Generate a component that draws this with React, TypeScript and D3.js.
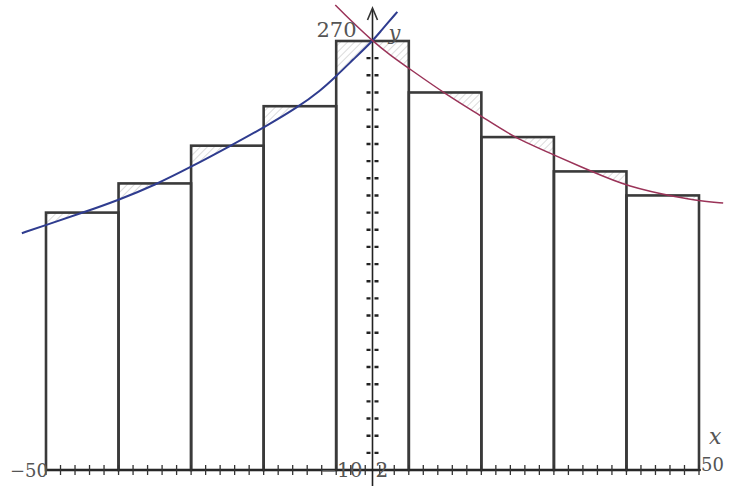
import React from 'react';
import * as d3 from 'd3';

// histogram bins (equal width over -50..50)
const binEdges = [-50, -38.89, -27.78, -16.67, -5.56, 5.56, 16.67, 27.78, 38.89, 50];
const barValues = [170, 187, 209, 232, 270, 240, 214, 194, 180];

// left curve (blue)
const blueX = [-53.7, -50, -44.5, -38.9, -33.3, -27.8, -21.8, -16.5, -11.4, -8.0, -5.7, -3.0, 0, 1.1, 3.8];
const blueY = [158, 162.8, 169.8, 177.3, 186.1, 196.6, 208.8, 219.9, 231.5, 241, 249, 259, 270, 275, 287];

// right curve (red)
const redX = [-5.7, -3.4, 0, 2.7, 5.7, 11.4, 16.9, 21.5, 27.8, 33.3, 39.1, 47.1, 50.2, 53.7];
const redY = [291, 282.2, 270, 261.8, 253.7, 238.5, 225.7, 214.1, 203.6, 194.4, 185, 178.6, 176.8, 175.6];

const yTopLabel = '270';
const xEndLabels = ['\u221250', '50'];
const xOriginLabels = ['\u221210', '2'];
const xAxisName = 'x';
const yAxisName = 'y';

const W = 731;
const H = 486;

export default function App() {
  const x = d3.scaleLinear().domain([-50, 50]).range([46, 699]);
  const y = d3.scaleLinear().domain([20, 270]).range([470, 41]);
  const x0 = x(0);
  const y0 = y(20);

  const blue = blueX.map((v, i) => [v, blueY[i]] as [number, number]);
  const red = redX.map((v, i) => [v, redY[i]] as [number, number]);

  const line = d3.line<[number, number]>()
    .x(d => x(d[0]))
    .y(d => y(d[1]))
    .curve(d3.curveBasis);

  // region between the top of the plot and a curve, later clipped to the bars
  const above = d3.area<[number, number]>()
    .x(d => x(d[0]))
    .y0(0)
    .y1(d => y(d[1]))
    .curve(d3.curveBasis);

  const bars = barValues.map((v, i) => ({ x0: binEdges[i], x1: binEdges[i + 1], v }));

  const yTicks = d3.range(30, 270, 10);
  const xTicks = d3.range(0, 46).map(i => -50 + (i * 100) / 45);

  const ink = '#3a3a3a';
  const labelFont = '"DejaVu Serif", serif';

  return (
    <svg width={W} height={H} style={{ position: 'absolute', left: 0, top: 0, background: '#fff' }}>
      <defs>
        <pattern id="hatch" patternUnits="userSpaceOnUse" width={5} height={5} patternTransform="rotate(45)">
          <line x1={0} y1={0} x2={0} y2={5} stroke="#b8b8b8" strokeWidth={1} />
        </pattern>
        <clipPath id="barsClip">
          {bars.map((b, i) => (
            <rect key={i} x={x(b.x0)} y={y(b.v)} width={x(b.x1) - x(b.x0)} height={y0 - y(b.v)} />
          ))}
        </clipPath>
      </defs>

      {/* bar fills */}
      {bars.map((b, i) => (
        <rect key={'f' + i} x={x(b.x0)} y={y(b.v)} width={x(b.x1) - x(b.x0)} height={y0 - y(b.v)} fill="#fff" />
      ))}

      {/* hatched parts of bars above the curves */}
      <g clipPath="url(#barsClip)">
        <path d={above(blue) || ''} fill="url(#hatch)" />
        <path d={above(red) || ''} fill="url(#hatch)" />
      </g>

      {/* bar outlines */}
      {bars.map((b, i) => (
        <rect key={'o' + i} x={x(b.x0)} y={y(b.v)} width={x(b.x1) - x(b.x0)} height={y0 - y(b.v)}
          fill="none" stroke={ink} strokeWidth={2.6} />
      ))}

      {/* x axis */}
      <line x1={x(-50)} x2={x(50) + 2} y1={y0} y2={y0} stroke="#222" strokeWidth={1.6} />
      {xTicks.map((t, i) => (
        <line key={'xt' + i} x1={x(t)} x2={x(t)} y1={y0 - 5} y2={y0 + 5} stroke="#333" strokeWidth={1.3} />
      ))}

      {/* y axis */}
      <line x1={x0} x2={x0} y1={10} y2={H} stroke="#222" strokeWidth={1.6} />
      {yTicks.map((t, i) => (
        <line key={'yt' + i} x1={x0 - 6} x2={x0 + 6} y1={y(t)} y2={y(t)} stroke="#222" strokeWidth={2.4} strokeDasharray="4 4 4" />
      ))}
      <path d={`M${x0 - 5},${20} L${x0},${8} L${x0 + 5},${20}`} fill="none" stroke="#333" strokeWidth={1.6} />

      {/* curves */}
      <path d={line(blue) || ''} fill="none" stroke="#2f3c8f" strokeWidth={2} />
      <path d={line(red) || ''} fill="none" stroke="#9a3358" strokeWidth={1.5} />

      {/* labels */}
      <text x={x0 - 16} y={37} textAnchor="end" fontFamily={labelFont} fontSize={21} fill="#555">{yTopLabel}</text>
      <text x={x0 + 16} y={40} fontFamily={labelFont} fontStyle="italic" fontSize={21} fill="#555">{yAxisName}</text>
      <text x={x(50) + 10} y={y0 - 26} fontFamily={labelFont} fontStyle="italic" fontSize={22} fill="#555">{xAxisName}</text>

      <text x={x(-50) + 2} y={y0 + 7} textAnchor="end" fontFamily={labelFont} fontSize={18} fill="#555">{xEndLabels[0]}</text>
      <text x={x(50) + 2} y={y0 + 1} fontFamily={labelFont} fontSize={18} fill="#555">{xEndLabels[1]}</text>
      <text x={x0 - 10} y={y0 + 7} textAnchor="end" fontFamily={labelFont} fontSize={20} fill="#555">{xOriginLabels[0]}</text>
      <text x={x0 + 3} y={y0 + 7} fontFamily={labelFont} fontSize={20} fill="#555">{xOriginLabels[1]}</text>
    </svg>
  );
}
